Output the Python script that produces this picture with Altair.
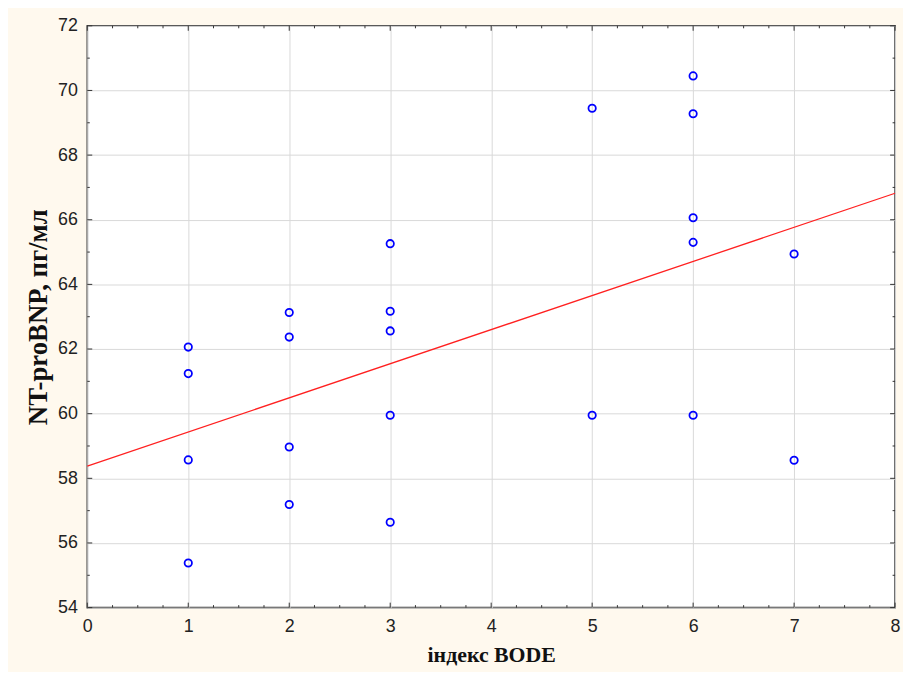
import altair as alt
import pandas as pd

# Data
bode_1 = [62.06, 61.24, 58.57, 55.38]
bode_2 = [63.13, 62.37, 58.97, 57.19]
bode_3 = [65.26, 63.17, 62.56, 59.95, 56.64]
bode_5 = [69.45, 59.95]
bode_6 = [70.45, 69.28, 66.06, 65.30, 59.95]
bode_7 = [64.94, 58.56]

line_x = [0, 8]
line_y = [58.38, 66.82]

x_ticks = [0, 1, 2, 3, 4, 5, 6, 7, 8]
y_ticks = [54, 56, 58, 60, 62, 64, 66, 68, 70, 72]
x_minor = [0.25, 0.5, 0.75, 1.25, 1.5, 1.75, 2.25, 2.5, 2.75, 3.25, 3.5, 3.75,
           4.25, 4.5, 4.75, 5.25, 5.5, 5.75, 6.25, 6.5, 6.75, 7.25, 7.5, 7.75]
y_minor = [55, 57, 59, 61, 63, 65, 67, 69, 71]

X_TITLE = "індекс BODE"
Y_TITLE = "NT-proBNP, пг/мл"

rows = []
for xv, ys_ in [(1, bode_1), (2, bode_2), (3, bode_3), (5, bode_5), (6, bode_6), (7, bode_7)]:
    for yv in ys_:
        rows.append({"bode": xv, "nt": yv})
pts = pd.DataFrame(rows)
reg = pd.DataFrame({"bode": line_x, "nt": line_y})

W, H = 815, 587
xs = alt.Scale(domain=[0, 8], nice=False, zero=False)
ys = alt.Scale(domain=[54, 72], nice=False, zero=False)
x_axis = alt.Axis(values=x_ticks, format="d", labelFlush=False)
y_axis = alt.Axis(values=y_ticks, format="d", labelFlush=False)


def X(field):
    return alt.X(field, scale=xs, title=X_TITLE, axis=x_axis)


def Y(field):
    return alt.Y(field, scale=ys, title=Y_TITLE, axis=y_axis)


points = alt.Chart(pts).mark_point(
    filled=False, color="#0000ff", size=55, strokeWidth=1.8, opacity=1
).encode(x=X("bode:Q"), y=Y("nt:Q"))

line = alt.Chart(reg).mark_line(color="#ff2020", strokeWidth=1.3).encode(
    x=X("bode:Q"), y=Y("nt:Q"))

tick_col = "#333333"
xmaj = pd.DataFrame({"v": x_ticks})
xmin = pd.DataFrame({"v": x_minor})
ymaj = pd.DataFrame({"v": y_ticks})
ymin = pd.DataFrame({"v": y_minor})


def xrule(df, y0, y1):
    return alt.Chart(df).mark_rule(color=tick_col, strokeWidth=1).encode(
        x=X("v:Q"), y=alt.value(y0), y2=alt.value(y1))


def yrule(df, x0, x1):
    return alt.Chart(df).mark_rule(color=tick_col, strokeWidth=1).encode(
        y=Y("v:Q"), x=alt.value(x0), x2=alt.value(x1))


ticks = [
    xrule(xmaj, H, H - 5), xrule(xmin, H, H - 2.5),
    xrule(xmaj, 0, 5), xrule(xmin, 0, 2.5),
    yrule(ymaj, 0, 5), yrule(ymin, 0, 2.5),
    yrule(ymaj, W, W - 5), yrule(ymin, W, W - 2.5),
]

chart = alt.layer(*ticks, line, points).properties(
    width=W, height=H,
    background="#fff9ee",
    padding={"left": 80, "top": 15, "right": 8, "bottom": 62},
    autosize=alt.AutoSizeParams(type="none"),
).configure_view(
    fill="white", stroke="#3a3a3a", strokeWidth=1.6
).configure_axis(
    domain=False, ticks=False, grid=True, gridColor="#d9d9d9", gridWidth=1,
    labelFont="Liberation Sans", labelFontSize=18, labelColor="#222222",
    titleFont="Liberation Serif", titleFontWeight="bold", titleColor="#111111",
).configure_axisX(
    labelPadding=10, titleFontSize=22, titlePadding=9,
).configure_axisY(
    labelPadding=10, titleFontSize=27, titlePadding=5,
)

chart.save("out.html", embed_options={"renderer": "svg", "actions": False})
